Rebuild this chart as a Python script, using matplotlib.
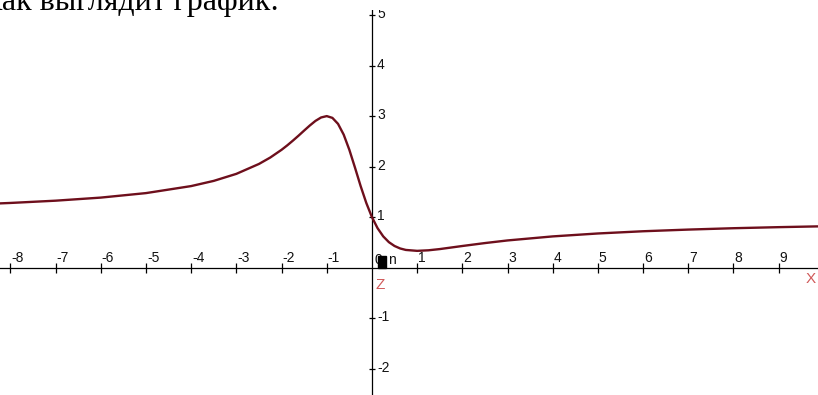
import matplotlib.pyplot as plt
import matplotlib.transforms as mtransforms
from matplotlib.patches import Rectangle

# curve values
xs = [-8.3, -8, -7, -6, -5, -4, -3.5, -3, -2.5, -2.25, -2, -1.875, -1.75, -1.625,
      -1.5, -1.375, -1.25, -1.125, -1, -0.875, -0.75, -0.625, -0.5, -0.375,
      -0.25, -0.125, 0, 0.125, 0.25, 0.375, 0.5, 0.625, 0.75, 1, 1.25, 1.5,
      2, 2.5, 3, 4, 5, 6, 7, 8, 9, 9.9]
ys = [1.270, 1.281, 1.326, 1.387, 1.476, 1.615, 1.718, 1.857, 2.053, 2.180,
      2.333, 2.420, 2.514, 2.612, 2.714, 2.814, 2.905, 2.973, 3.0, 2.965,
      2.846, 2.633, 2.333, 1.980, 1.615, 1.281, 1.0, 0.781, 0.619, 0.505,
      0.429, 0.380, 0.351, 0.333, 0.344, 0.368, 0.429, 0.487, 0.539, 0.619,
      0.677, 0.721, 0.754, 0.781, 0.802, 0.818]

x_ticks = [-8, -7, -6, -5, -4, -3, -2, -1, 1, 2, 3, 4, 5, 6, 7, 8, 9]
y_ticks = [-2, -1, 1, 2, 3, 4, 5]

W, H = 818, 395
fig = plt.figure(figsize=(W / 100, H / 100), dpi=100)
top = 10  # graph area starts a few px below the top edge
ax = fig.add_axes([0, 0, 1, (H - top) / H])
ax.set_xlim(-8.23, 9.87)
ax.set_ylim(-2.52, 5.10)
ax.axis('off')

# heading (partially outside the canvas)
fig.text(-19 / W, 1 - 10 / H, 'Как выглядит график:', fontsize=23,
         family='Liberation Serif', va='baseline', ha='left')

# axes through the origin
ax.axhline(0, color='black', lw=0.9)
ax.axvline(0, color='black', lw=0.9)
ax.plot(x_ticks, [0] * len(x_ticks), ls='none', marker='|', ms=7,
        mew=0.9, color='black')
ax.plot([0] * len(y_ticks), y_ticks, ls='none', marker='_', ms=5,
        mew=0.9, color='black')

lab = dict(fontsize=10, family='Liberation Sans', color='#111111')
for t in x_ticks:
    tr = mtransforms.offset_copy(ax.transData, fig=fig, x=1, y=3, units='dots')
    ax.text(t, 0, '%d' % t, transform=tr, ha='left', va='bottom', **lab)
for t in y_ticks:
    tr = mtransforms.offset_copy(ax.transData, fig=fig, x=5, y=1, units='dots')
    ax.text(0, t, '%d' % t, transform=tr, ha='left', va='center',
            clip_on=True, **lab)

# origin marker
tr = mtransforms.offset_copy(ax.transData, fig=fig, x=3, y=1, units='dots')
ax.text(0, 0, '0', transform=tr, ha='left', va='bottom', **lab)
ax.add_patch(Rectangle((6.5 / 45.2, 0.0), 8 / 45.2, 12 / 50.5,
                       color='black', zorder=4))
tr = mtransforms.offset_copy(ax.transData, fig=fig, x=16, y=1, units='dots')
ax.text(0, 0, 'n', transform=tr, ha='left', va='bottom', **lab)

# axis names
red = '#d05a5a'
tr = mtransforms.offset_copy(ax.transData, fig=fig, x=4, y=-10, units='dots')
ax.text(0, 0, 'Z', transform=tr, ha='left', va='top', fontsize=11,
        family='Liberation Sans', color=red)
tr = mtransforms.offset_copy(ax.transData, fig=fig, x=-2, y=-4, units='dots')
ax.text(9.87, 0, 'X', transform=tr, ha='right', va='top', fontsize=11,
        family='Liberation Sans', color=red)

ax.plot(xs, ys, color='#6e0f1c', lw=1.7, solid_capstyle='round', zorder=3)

fig.savefig('out.png', dpi=100)
